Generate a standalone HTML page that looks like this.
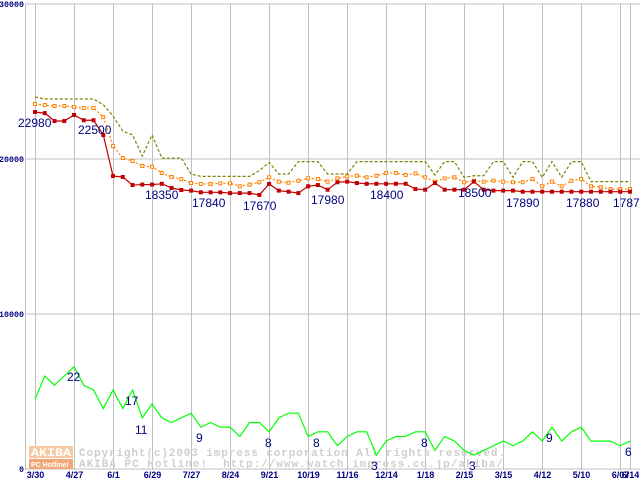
<!DOCTYPE html>
<html><head><meta charset="utf-8"><style>
html,body{margin:0;padding:0;background:#fff;}
svg{display:block;font-family:"Liberation Sans",sans-serif;}
</style></head><body>
<svg id="chart" width="640" height="480" viewBox="0 0 640 480" xmlns="http://www.w3.org/2000/svg">
<g id="grid"></g>
<g id="wm">
 <rect x="29" y="446" width="44" height="12" fill="#f8c8a0"/>
 <text x="31" y="456" font-size="11" font-weight="bold" fill="#fff" font-family="Liberation Mono,monospace" textLength="40" lengthAdjust="spacingAndGlyphs">AKIBA</text>
 <rect x="29" y="459" width="44" height="10" fill="#f0a878"/>
 <text x="31" y="467" font-size="7" font-weight="bold" fill="#fff">PC Hotline!</text>
 <text x="79" y="456" font-size="11" font-weight="bold" fill="#cfcfcf" font-family="Liberation Mono,monospace" textLength="426" lengthAdjust="spacing">Copyright(c)2003 impress corporation All rights reserved.</text>
 <text x="79" y="467" font-size="11" font-weight="bold" fill="#cfcfcf" font-family="Liberation Mono,monospace" textLength="424" lengthAdjust="spacing" xml:space="preserve">AKIBA PC Hotline!  http://www.watch.impress.co.jp/akiba/</text>
</g>
<g id="series"></g>
<g id="labels"></g>
</svg>
<script>
const xTickLabels=["3/30","4/27","6/1","6/29","7/27","8/24","9/21","10/19","11/16","12/14","1/18","2/15","3/15","4/12","5/10","6/07","6/14"];
const xTickWeeks=[0,4,8,12,16,20,24,28,32,36,40,44,48,52,56,60,61];
const yTicks=[0,10000,20000,30000];
const minPrice=[23030,22960,22450,22450,22840,22500,22500,21550,18900,18840,18320,18350,18350,18400,18130,18000,17960,17850,17850,17850,17800,17800,17800,17680,18390,17960,17890,17800,18240,18320,18020,18500,18540,18450,18400,18400,18400,18400,18400,18060,18020,18450,18020,18020,18020,18540,18020,17960,17960,17960,17890,17890,17890,17890,17890,17890,17890,17890,17890,17890,17890,17890];
const avgPrice=[23550,23480,23420,23420,23350,23290,23290,22700,20840,20060,19870,19550,19500,19100,18840,18700,18450,18390,18390,18430,18430,18240,18350,18500,18820,18540,18470,18600,18750,18710,18540,18750,18880,18920,18820,18920,19100,19100,18970,19070,18820,18540,18750,18820,18500,18600,18540,18600,18540,18500,18500,18710,18240,18540,18240,18600,18710,18240,18180,18060,18060,18060];
const maxPrice=[24000,23870,23870,23870,23870,23870,23870,23500,22770,21800,21550,20190,21550,20060,20060,20060,19030,18880,18880,18880,18880,18880,18880,19250,19780,19030,19030,19830,19830,19830,19030,19030,19030,19830,19830,19830,19830,19830,19830,19830,19830,18970,19830,19830,18820,18920,18920,19830,19830,18820,19830,19830,18820,19830,18820,19830,19830,18540,18540,18540,18540,18540];
const shopCount=[15,20,18,20,22,18,17,13,17,13,17,11,14,11,10,11,12,9,10,9,9,7,10,10,8,11,12,12,7,8,8,5,7,8,8,3,6,7,7,8,8,4,7,6,4,3,4,5,6,5,6,8,6,9,6,8,9,6,6,6,5,6];
const priceLabels=[[0,"22980",18,127],[7,"22500",78,134],[12,"18350",145,199],[16,"17840",192,207],[23,"17670",243,210],[29,"17980",311,204],[35,"18400",370,199],[44,"18500",458,197],[49,"17890",506,207],[55,"17880",566,207],[61,"17870",613,207]];
const countLabels=[["22",67,381],["17",125,405],["11",135,434],["9",196,442],["8",265,447],["8",313,447],["3",371,470],["8",421,447],["3",469,470],["9",546,442],["6",625,456]];

const NS="http://www.w3.org/2000/svg";
const x=i=>35+i*9.754;
const y=v=>469-v*0.0155;
const yc=c=>y(c*300);
function mk(tag,attrs,parent){const e=document.createElementNS(NS,tag);for(const k in attrs)e.setAttribute(k,attrs[k]);parent.appendChild(e);return e;}
const grid=document.getElementById('grid');
yTicks.forEach(t=>{
  const l=mk('line',{x1:25,x2:640,y1:y(t),y2:y(t),stroke:'#c0c0c0','stroke-width':1},grid);
  
  
  const s=String(t);
  const tx=mk('text',{x:24,y:y(t)+3,'text-anchor':'end','font-size':8,'font-weight':'bold',fill:'#000080','font-family':'Liberation Mono,monospace',textLength:s.length*5,lengthAdjust:'spacingAndGlyphs'},grid);
  tx.textContent=s;
  
  
});
const ax=mk('line',{x1:25.5,x2:25.5,y1:4,y2:470,stroke:'#c0c0c0'},grid);


xTickWeeks.forEach((w,k)=>{
  const xx=Math.round(x(w))+0.5;
  const l=mk('line',{x1:xx,x2:xx,y1:4,y2:470,stroke:'#c0c0c0'},grid);
  
  
  const tx=mk('text',{x:xx,y:478,'text-anchor':'middle','font-size':9,'font-weight':'bold',fill:'#000080'},grid);
  tx.textContent=xTickLabels[k];
  
  
});
const S=document.getElementById('series');
function line(arr,fy,color,dash,name){
  const p=mk('polyline',{points:arr.map((v,i)=>x(i)+','+fy(v)).join(' '),fill:'none',stroke:color,'stroke-width':1.2},S);
  if(dash)p.setAttribute('stroke-dasharray',dash);
  
  
}
line(maxPrice,y,'#808000','3,2','max-price-line');
line(avgPrice,y,'#ff8000','2,2','avg-price-line');
avgPrice.forEach((v,i)=>{const r=mk('rect',{x:x(i)-1.5,y:y(v)-1.5,width:3,height:3,fill:'#fff',stroke:'#ff8000','stroke-width':1},S);
  
  });
line(minPrice,y,'#c00000',null,'min-price-line');
minPrice.forEach((v,i)=>{const r=mk('rect',{x:x(i)-2,y:y(v)-2,width:4,height:4,fill:'#c00000'},S);
  
  });
line(shopCount,yc,'#00ff00',null,'shop-count-line');
const L=document.getElementById('labels');
priceLabels.forEach(p=>{const t=mk('text',{x:p[2],y:p[3],'font-size':12,fill:'#000080'},L);t.textContent=p[1];
  
  });
countLabels.forEach(p=>{const t=mk('text',{x:p[1],y:p[2],'font-size':12,fill:'#000080'},L);t.textContent=p[0];
  
  });
</script>
</body></html>
